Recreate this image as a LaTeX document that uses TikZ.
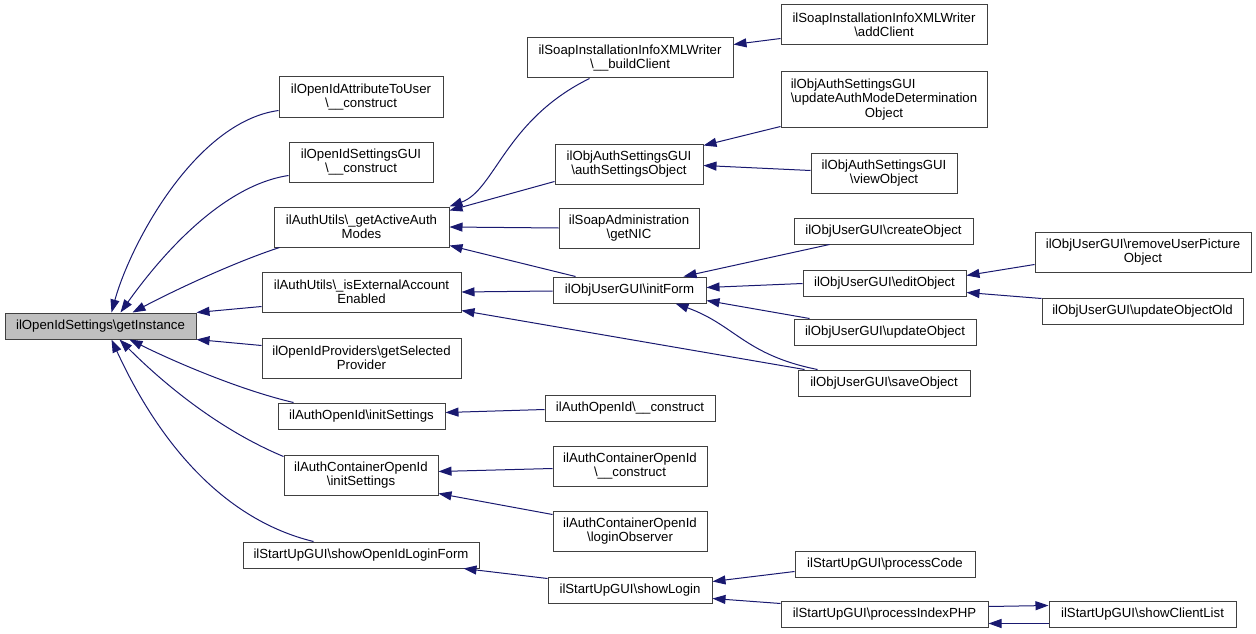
\documentclass[tikz,border=0pt]{standalone}
\usepackage{fontspec}
\setmainfont{Liberation Sans}
\usetikzlibrary{arrows.meta}
\newcommand{\myBS}{\textbackslash}
\definecolor{edgeblue}{HTML}{191970}
\definecolor{boxline}{HTML}{404040}
\definecolor{boxfill}{HTML}{BFBFBF}
\begin{document}
\begin{tikzpicture}[x=1pt,y=-1pt,
  bx/.style 2 args={draw=boxline, line width=1pt, fill=white, rectangle,
    minimum width=#1pt, minimum height=#2pt, inner sep=0pt, align=center,
    font=\fontsize{13.2}{14.5}\selectfont},
  calls/.style={draw=edgeblue, line width=1pt, {Triangle[length=13pt,width=9pt]}-}]
\useasboundingbox (0,0) rectangle (1256,634);

% column 0
\node[bx={191}{26}, fill=boxfill] (gi) at (100.5,326) {ilOpenIdSettings\myBS getInstance};
% column 1
\node[bx={164}{40}] (n1) at (361,97) {ilOpenIdAttributeToUser\\\myBS\_\_construct};
\node[bx={144}{40}] (n2) at (361,162) {ilOpenIdSettingsGUI\\\myBS\_\_construct};
\node[bx={175}{40}] (n3) at (361.5,227) {ilAuthUtils\myBS\_getActiveAuth\\Modes};
\node[bx={199}{40}] (n4) at (361.5,292) {ilAuthUtils\myBS\_isExternalAccount\\Enabled};
\node[bx={199}{40}] (n5) at (361.5,358) {ilOpenIdProviders\myBS getSelected\\Provider};
\node[bx={167}{26}] (n6) at (361.5,416) {ilAuthOpenId\myBS initSettings};
\node[bx={154}{40}] (n7) at (361,475) {ilAuthContainerOpenId\\\myBS initSettings};
\node[bx={236}{26}] (n8) at (361,555) {ilStartUpGUI\myBS showOpenIdLoginForm};
% column 2
\node[bx={206}{40}] (m1) at (630,58) {ilSoapInstallationInfoXMLWriter\\\myBS\_\_buildClient};
\node[bx={148}{40}] (m2) at (629,164) {ilObjAuthSettingsGUI\\\myBS authSettingsObject};
\node[bx={140}{40}] (m3) at (629,228) {ilSoapAdministration\\\myBS getNIC};
\node[bx={153}{26}] (m4) at (629.5,290) {ilObjUserGUI\myBS initForm};
\node[bx={170}{26}] (m5) at (630,408) {ilAuthOpenId\myBS\_\_construct};
\node[bx={154}{40}] (m6) at (630,466) {ilAuthContainerOpenId\\\myBS\_\_construct};
\node[bx={154}{40}] (m7) at (630,531) {ilAuthContainerOpenId\\\myBS loginObserver};
\node[bx={164}{26}] (m8) at (630,590) {ilStartUpGUI\myBS showLogin};
% column 3
\node[bx={206}{40}] (r1) at (884,25) {ilSoapInstallationInfoXMLWriter\\\myBS addClient};
\node[bx={206}{55}] (r2) at (884,99.5) {\rlap{ilObjAuthSettingsGUI}\phantom{\myBS updateAuthModeDetermination}\\\myBS updateAuthModeDetermination\\Object};
\node[bx={146}{40}] (r3) at (884,173) {ilObjAuthSettingsGUI\\\myBS viewObject};
\node[bx={179}{26}] (r4) at (883.5,231) {ilObjUserGUI\myBS createObject};
\node[bx={163}{26}] (r5) at (884.5,283) {ilObjUserGUI\myBS editObject};
\node[bx={182}{26}] (r6) at (885,332) {ilObjUserGUI\myBS updateObject};
\node[bx={172}{26}] (r7) at (884,383) {ilObjUserGUI\myBS saveObject};
\node[bx={180}{26}] (r8) at (885,564) {ilStartUpGUI\myBS processCode};
\node[bx={207}{26}] (r9) at (884.5,614) {ilStartUpGUI\myBS processIndexPHP};
% column 4
\node[bx={216}{40}] (s1) at (1143,252) {ilObjUserGUI\myBS removeUserPicture\\Object};
\node[bx={201}{26}] (s2) at (1142.5,311) {ilObjUserGUI\myBS updateObjectOld};
\node[bx={187}{26}] (s3) at (1142.5,614) {ilStartUpGUI\myBS showClientList};

% edges into getInstance
\draw[calls] ([shift={(107,0)}]gi.north west) .. controls (130,245) and (195,122) .. ([shift={(0,34)}]n1.north west);
\draw[calls] ([shift={(116,0)}]gi.north west) .. controls (165,250) and (225,185) .. ([shift={(0,34)}]n2.north west);
\draw[calls] ([shift={(128,0)}]gi.north west) .. controls (175,290) and (235,262) .. ([shift={(6,0)}]n3.south west);
\draw[calls] (gi.north east) -- ([shift={(0,-6)}]n4.south west);
\draw[calls] (gi.south east) -- ([shift={(0,8)}]n5.north west);
\draw[calls] ([shift={(125,0)}]gi.south west) .. controls (175,362) and (240,390) .. ([shift={(16,0)}]n6.north west);
\draw[calls] ([shift={(115,0)}]gi.south west) .. controls (165,385) and (220,430) .. ([shift={(0,2)}]n7.north west);
\draw[calls] ([shift={(107,0)}]gi.south west) .. controls (160,445) and (225,520) .. ([shift={(71,0)}]n8.north west);

% column 1 <- column 2
\draw[calls] (n3.north east) .. controls (495,190) and (505,120) .. ([shift={(63,0)}]m1.south west);
\draw[calls] ([shift={(0,4)}]n3.north east) -- ([shift={(0,-3)}]m2.south west);
\draw[calls] (n3.east) -- (m3.west);
\draw[calls] ([shift={(0,-2)}]n3.south east) -- ([shift={(23,0)}]m4.north west);
\draw[calls] (n4.east) -- ([shift={(0,1)}]m4.west);
\draw[calls] ([shift={(0,-2)}]n4.south east) -- ([shift={(7,0)}]r7.north west);
\draw[calls] ([shift={(0,10)}]n6.north east) -- ([shift={(0,15)}]m5.north west);
\draw[calls] ([shift={(0,17)}]n7.north east) -- ([shift={(0,23)}]m6.north west);
\draw[calls] ([shift={(0,-2)}]n7.south east) -- ([shift={(0,4)}]m7.north west);
\draw[calls] ([shift={(-16,0)}]n8.south east) -- ([shift={(0,2)}]m8.north west);

% column 2 <- column 3
\draw[calls] ([shift={(0,7)}]m1.north east) -- ([shift={(0,34)}]r1.north west);
\draw[calls] ([shift={(0,2)}]m2.north east) -- ([shift={(0,-1)}]r2.south west);
\draw[calls] ([shift={(0,22)}]m2.north east) -- ([shift={(0,18)}]r3.north west);
\draw[calls] ([shift={(-23,0)}]m4.north east) -- ([shift={(36,0)}]r4.south west);
\draw[calls] ([shift={(0,11)}]m4.north east) -- ([shift={(0,14)}]r5.north west);
\draw[calls] ([shift={(0,-3)}]m4.south east) -- ([shift={(16,0)}]r6.north west);
\draw[calls] ([shift={(123,0)}]m4.south west) .. controls (735,325) and (745,355) .. ([shift={(20,0)}]r7.north west);
\draw[calls] ([shift={(0,5)}]m8.north east) -- ([shift={(0,21)}]r8.north west);
\draw[calls] ([shift={(0,-5)}]m8.south east) -- ([shift={(0,3)}]r9.north west);

% column 3 <- column 4
\draw[calls] ([shift={(0,6)}]r5.north east) -- ([shift={(0,-8)}]s1.south west);
\draw[calls] ([shift={(0,-4)}]r5.south east) -- ([shift={(0,1)}]s2.north west);
\draw[calls] ([shift={(0,5)}]s3.north west) -- ([shift={(0,6)}]r9.north east);
\draw[calls] ([shift={(0,-4)}]r9.south east) -- ([shift={(0,-4)}]s3.south west);
\end{tikzpicture}
\end{document}
